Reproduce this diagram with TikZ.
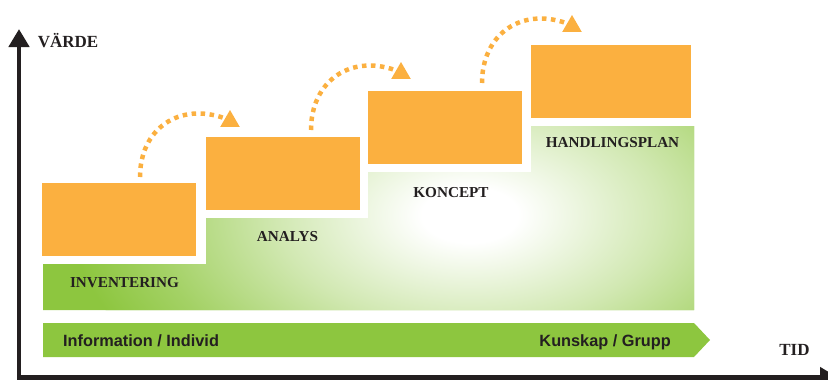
\documentclass[tikz,border=0pt]{standalone}
\usepackage{fontspec}
\setmainfont{Liberation Serif}
\setsansfont{Liberation Sans}
\usepackage{xcolor}
\usetikzlibrary{arrows.meta}
\usetikzlibrary{shapes.geometric}
\definecolor{orng}{HTML}{FBB040}
\definecolor{grn}{HTML}{8DC63F}
\definecolor{ink}{HTML}{231F20}
\pgfdeclareradialshading{glow}{\pgfpoint{0bp}{0bp}}{color(0bp)=(white); color(3bp)=(white); color(12bp)=(grn!40!white); color(20bp)=(grn!80!white); color(25bp)=(grn); color(50bp)=(grn)}
\tikzset{
  box/.style={fill=orng, minimum width=154pt, minimum height=73pt, inner sep=0pt, anchor=north west},
  hop/.style={orng, line width=4.5pt, dash pattern=on 4.5pt off 4.5pt},
  tipmark/.style={regular polygon, regular polygon sides=3, fill=orng, minimum size=22.6pt, inner sep=0pt},
  steplbl/.style={font=\bfseries\fontsize{15.2}{18}\selectfont, text=ink, inner sep=0pt, anchor=base},
  axislbl/.style={font=\bfseries\fontsize{17}{20}\selectfont, text=ink, inner sep=0pt, anchor=base},
  bandlbl/.style={font=\sffamily\bfseries\fontsize{16.3}{19}\selectfont, text=ink, inner sep=0pt},
  axis/.style={ink, line width=4.5pt, line join=miter, {Triangle[width=20pt,length=18pt]}-{Triangle[width=20pt,length=18pt]}}
}

\begin{document}
\begin{tikzpicture}[x=1pt, y=-1pt]
\useasboundingbox (0,0) rectangle (828,380);
% green steps
\fill[grn] (43,310) -- (43,264) -- (206,264) -- (206,218) -- (368,218) -- (368,172) -- (531,172) -- (531,126) -- (694,126) -- (694,310) -- cycle;
\begin{scope}
\clip (43,310) -- (43,264) -- (206,264) -- (206,218) -- (368,218) -- (368,172) -- (531,172) -- (531,126) -- (694,126) -- (694,310) -- cycle;
\shade[shading=glow] (470,215) ellipse (400pt and 230pt);
\end{scope}
\node[steplbl] (inv-lbl) at (124.5,287) {INVENTERING};
\node[steplbl] (ana-lbl) at (287.5,241) {ANALYS};
\node[steplbl] (kon-lbl) at (451,197) {KONCEPT};
\node[steplbl] (han-lbl) at (612.5,147) {HANDLINGSPLAN};
% orange boxes
\node[box] (inv) at (42,183) {};
\node[box] (ana) at (206,137) {};
\node[box] (kon) at (368,91) {};
\node[box, minimum width=160pt] (han) at (531,45) {};
% hops
\coordinate (s1) at (140,177);
\coordinate (s2) at (311,130);
\coordinate (s3) at (482,83);
\node[tipmark] (t1) at (230,121.3) {};
\node[tipmark] (t2) at (401,73.3) {};
\node[tipmark] (t3) at (572,26.3) {};
\draw[hop] (s1) to[out=90, in=160, looseness=1.2] (t1.side 1);
\draw[hop] (s2) to[out=90, in=160, looseness=1.2] (t2.side 1);
\draw[hop] (s3) to[out=90, in=160, looseness=1.2] (t3.side 1);
% band
\fill[grn] (43,323) -- (694,323) -- (710,340) -- (694,357) -- (43,357) -- cycle;
\node[bandlbl, anchor=base west] (info) at (63,346) {Information / Individ};
\node[bandlbl, anchor=base east] (know) at (671,346) {Kunskap / Grupp};
% axes
\coordinate (vtop) at (19,29);
\coordinate (orig) at (19,377.5);
\coordinate (hend) at (838,377.5);
\draw[axis] (vtop) -- (orig) -- (hend);
\node[axislbl] (value) at (68,47) {VÄRDE};
\node[axislbl] (time) at (794.5,355) {TID};
\end{tikzpicture}
\end{document}
